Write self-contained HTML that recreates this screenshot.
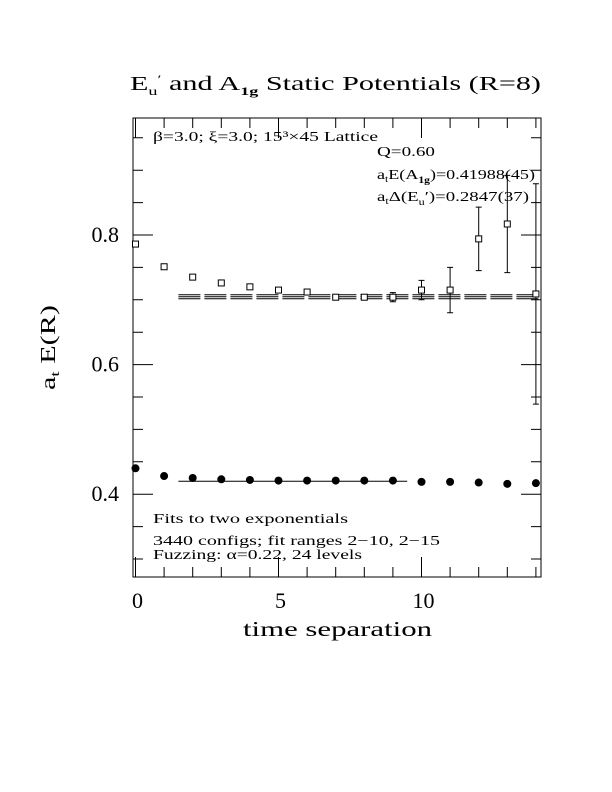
<!DOCTYPE html>
<html><head><meta charset="utf-8"><style>
body{margin:0;background:#fff}
svg{display:block;font-family:"Liberation Serif",serif}
</style></head><body>
<svg width="612" height="792" viewBox="0 0 612 792">
<g id="plot"></g>
<text x="130" y="90" font-size="20" textLength="411" lengthAdjust="spacingAndGlyphs">E<tspan font-size="12" dy="5">u</tspan><tspan dy="-12" font-size="12">′</tspan><tspan dy="7">  and A</tspan><tspan font-size="12" dy="5" font-weight="bold">1g</tspan><tspan dy="-5"> Static Potentials (R=8)</tspan></text>
<text x="153" y="141" font-size="14" textLength="225" lengthAdjust="spacingAndGlyphs">β=3.0; ξ=3.0; 15³×45 Lattice</text>
<text x="377" y="156" font-size="14" textLength="58" lengthAdjust="spacingAndGlyphs">Q=0.60</text>
<text x="377" y="179" font-size="14" textLength="158" lengthAdjust="spacingAndGlyphs">a<tspan font-size="9" dy="3">t</tspan><tspan dy="-3">E(A</tspan><tspan font-size="9" dy="4" font-weight="bold">1g</tspan><tspan dy="-4">)=0.41988(45)</tspan></text>
<text x="377" y="201" font-size="14" textLength="152" lengthAdjust="spacingAndGlyphs">a<tspan font-size="9" dy="3">t</tspan><tspan dy="-3">Δ(E</tspan><tspan font-size="9" dy="4">u</tspan><tspan dy="-4">′)=0.2847(37)</tspan></text>
<text x="153" y="523" font-size="14" textLength="195" lengthAdjust="spacingAndGlyphs">Fits to two exponentials</text>
<text x="153" y="545" font-size="14" textLength="287" lengthAdjust="spacingAndGlyphs">3440 configs; fit ranges 2−10, 2−15</text>
<text x="153" y="559" font-size="14" textLength="209" lengthAdjust="spacingAndGlyphs">Fuzzing: α=0.22, 24 levels</text>
<text x="243" y="636" font-size="21" textLength="189" lengthAdjust="spacingAndGlyphs">time separation</text>
<text transform="translate(55,390) rotate(-90)" font-size="21" textLength="85" lengthAdjust="spacingAndGlyphs">a<tspan font-size="13" dy="4">t</tspan><tspan dy="-4"> E(R)</tspan></text>
</svg>
<script>
const xTicks=[0,5,10];
const yTicks=[0.4,0.6,0.8];
const tA=[0,1,2,3,4,5,6,7,8,9,10,11,12,13,14];
const a1g=[0.440,0.428,0.425,0.423,0.422,0.421,0.421,0.421,0.421,0.421,0.419,0.419,0.418,0.416,0.417];
const tE=[0,1,2,3,4,5,6,7,8,9,10,11,12,13,14];
const eu=[0.786,0.751,0.735,0.726,0.720,0.715,0.712,0.704,0.704,0.704,0.715,0.715,0.794,0.817,0.709];
const euErr=[0.002,0.002,0.002,0.002,0.002,0.002,0.002,0.002,0.002,0.007,0.015,0.035,0.049,0.075,0.170];
const fitA=[0.420,1.5,9.5];
const fitE=[0.7047,0.003,1.5,14.2];
const X=v=>135.5+v*28.6, Y=v=>235-(v-0.8)*648;
const L=133,R=541,T=118,B=577;
const ns="http://www.w3.org/2000/svg",g=document.getElementById('plot');
function mk(t,a){const e=document.createElementNS(ns,t);for(const k in a)e.setAttribute(k,a[k]);g.appendChild(e);return e;}
let e=mk('rect',{x:L,y:T,width:R-L,height:B-T,fill:'none',stroke:'#000','stroke-width':1});


for(let t=0;t<=14;t++){const x=X(t),len=t%5==0?20:10;
 e=mk('path',{d:`M${x},${B}v${-len}M${x},${T}v${len}`,stroke:'#000'});
 
 }
for(let v=0.3;v<0.98;v+=0.05){const y=Y(v),len=Math.abs(v*10-Math.round(v*10))<0.01&&Math.round(v*10)%2==0?20:10;
 e=mk('path',{d:`M${L},${y}h${len}M${R},${y}h${-len}`,stroke:'#000'});
 
 }
xTicks.forEach(v=>{e=mk('text',{x:X(v)+2,y:608,'font-size':22,'text-anchor':'middle'});e.textContent=v;
 
 });
yTicks.forEach(v=>{e=mk('text',{x:119,y:Y(v)+7,'font-size':22,'text-anchor':'end'});e.textContent=v.toFixed(1);
 
 });
e=mk('line',{x1:X(fitA[1]),x2:X(fitA[2]),y1:Y(fitA[0]),y2:Y(fitA[0]),stroke:'#000'});


[-1,0,1].forEach(k=>{const y=Y(fitE[0]+k*fitE[1]);
 e=mk('line',{x1:X(fitE[2]),x2:Math.min(X(fitE[3]),R),y1:y,y2:y,stroke:'#000','stroke-dasharray':'22,4'});
 
 });
tA.forEach((t,i)=>{e=mk('circle',{cx:X(t),cy:Y(a1g[i]),r:4,fill:'#000'});
 
 });
tE.forEach((t,i)=>{const x=X(t),y=Y(eu[i]),y1=Math.max(Y(eu[i]+euErr[i]),T),y2=Y(eu[i]-euErr[i]);
 if(euErr[i]>0.004){e=mk('path',{d:`M${x},${y1}V${y2}M${x-3},${y1}h6M${x-3},${y2}h6`,stroke:'#000',fill:'none'});
  
  }
 e=mk('rect',{x:x-3,y:y-3,width:6,height:6,fill:'#fff',stroke:'#000'});
 
 });
</script>
</body></html>
